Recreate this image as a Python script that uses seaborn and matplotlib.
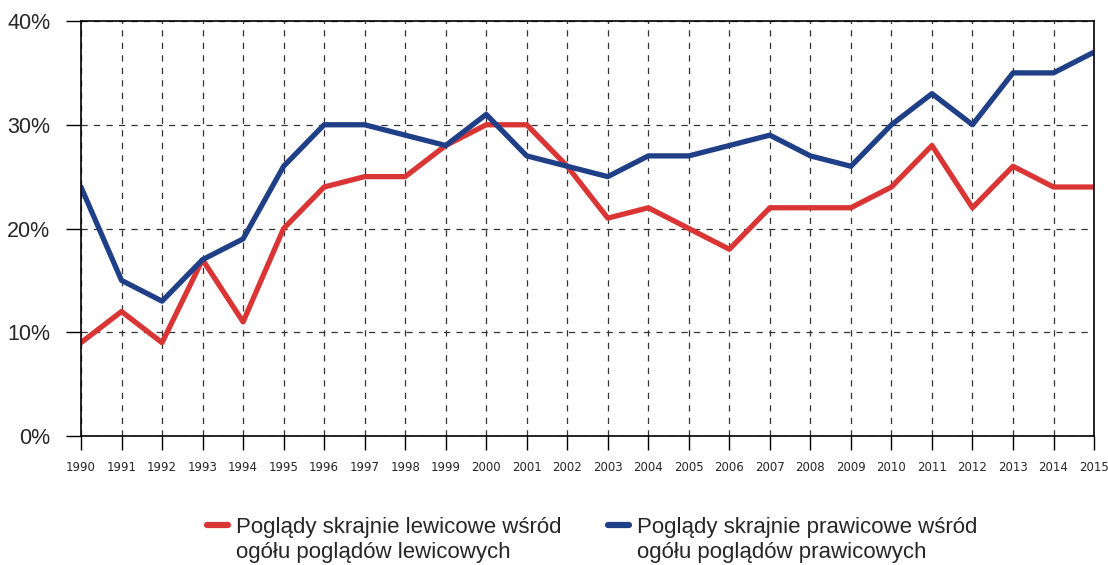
import pandas as pd
import numpy as np
import matplotlib.pyplot as plt
import seaborn as sns
from matplotlib import font_manager

# Years and series (percent)
years = list(range(1990, 2016))
left_share = [9, 12, 9, 17, 11, 20, 24, 25, 25, 28, 30, 30, 26, 21, 22, 20, 18, 22, 22, 22, 24, 28, 22, 26, 24, 24]
right_share = [24, 15, 13, 17, 19, 26, 30, 30, 29, 28, 31, 27, 26, 25, 27, 27, 28, 29, 27, 26, 30, 33, 30, 35, 35, 37]

label_left = ['Poglądy skrajnie lewicowe wśród', 'ogółu poglądów lewicowych']
label_right = ['Poglądy skrajnie prawicowe wśród', 'ogółu poglądów prawicowych']

data = pd.DataFrame({
    'Rok': years * 2,
    'Udział': left_share + right_share,
    'Seria': [label_left[0]] * len(years) + [label_right[0]] * len(years),
})

sns.set_style('white')
plt.rcParams['font.family'] = ['Liberation Sans', 'DejaVu Sans']

installed = {f.name for f in font_manager.fontManager.ttflist}
narrow = 'Liberation Sans Narrow' in installed

fig = plt.figure(figsize=(11.08, 5.65), dpi=100)
ax = fig.add_axes([0.0731, 0.2283, 0.9143, 0.7345])

sns.lineplot(data=data, x='Rok', y='Udział', hue='Seria',
             palette={label_left[0]: '#d93535', label_right[0]: '#1f3f87'},
             linewidth=3.8, ax=ax, legend=False)

ax.set_xlim(1990, 2015)
ax.set_ylim(0, 40)
ax.set_xticks(years)
ax.set_xticklabels([str(y) for y in years], fontsize=8.5, family='DejaVu Sans')
ax.set_yticks([0, 10, 20, 30, 40])
ax.set_yticklabels(['0%', '10%', '20%', '30%', '40%'], fontsize=15.5)
ax.set_xlabel('')
ax.set_ylabel('')

ax.grid(True, color='#333333', linestyle=(0, (5, 5)), linewidth=0.9)
ax.set_axisbelow(True)
for s in ax.spines.values():
    s.set_color('black')
    s.set_linewidth(1.2)
    s.set_visible(True)

ax.tick_params(axis='y', left=True, direction='out', length=11, width=1, color='black', pad=11)
ax.tick_params(axis='x', bottom=True, direction='out', length=10, width=1, color='black', pad=8)

# legend: handle sits on the first line, second line added below it
leg_family = ['Liberation Sans Narrow', 'Liberation Sans'] if narrow else ['Liberation Sans']
leg_size = 19.8 if narrow else 16
handles = [plt.Line2D([], [], color='#d93535', linewidth=4.5, solid_capstyle='round'),
           plt.Line2D([], [], color='#1f3f87', linewidth=4.5, solid_capstyle='round')]
leg = fig.legend(handles, [label_left[0], label_right[0]], loc='upper left', ncol=2,
                 bbox_to_anchor=(0.169, 0.12), frameon=False,
                 prop={'family': leg_family, 'size': leg_size},
                 handlelength=0.95, handletextpad=0.35, columnspacing=2.1)

fig.canvas.draw()
inv = fig.transFigure.inverted()
for t, second in zip(leg.get_texts(), [label_left[1], label_right[1]]):
    bb = t.get_window_extent()
    x0, y0 = inv.transform((bb.x0, bb.y0 - 25))
    fig.text(x0, y0, second, family=leg_family, size=leg_size,
             ha='left', va='bottom', color=t.get_color())

fig.savefig('out.png', dpi=100)
